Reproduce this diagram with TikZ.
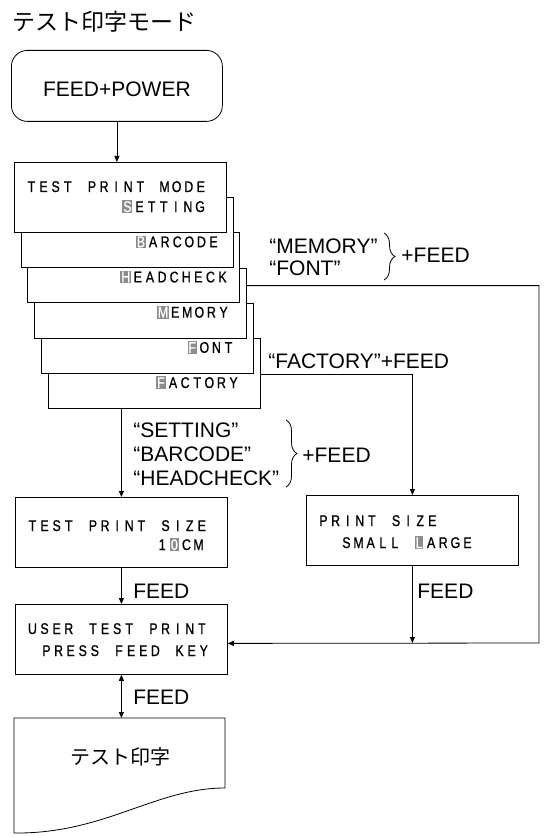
\documentclass[tikz,border=0pt]{standalone}
\usepackage{fontspec}
\setmainfont{Liberation Sans}
\newfontfamily\jpfont{Noto Sans CJK JP}
\newfontfamily\lcdfont[FakeStretch=0.8, FakeBold=0.8]{Liberation Sans}
\usetikzlibrary{arrows.meta,decorations.pathreplacing}

% one character per display cell
\newlength\lcdw
\setlength\lcdw{12.1pt}
\ExplSyntaxOn
\newcommand\lcd[1]{\str_map_inline:nn{#1}{\makebox[\lcdw]{##1}}}
\ExplSyntaxOff
\newcommand\lcdhl[1]{\makebox[\lcdw]{\setlength\fboxsep{0.9pt}\colorbox{black!45}{\textcolor{white}{#1}}}}

\tikzset{
  screen/.style={draw, fill=white, minimum width=212pt, minimum height=70pt, anchor=north west, inner sep=0pt},
  lcdtext/.style={font=\lcdfont\fontsize{15.5}{18}\selectfont, inner sep=0pt},
  note/.style={font=\fontsize{21}{24}\selectfont, inner sep=0pt},
}

\begin{document}
\begin{tikzpicture}[x=1pt, y=-1pt, line width=0.8pt, >={Triangle[length=6pt,width=5pt]}]
    \useasboundingbox (0,0) rectangle (545,837);

    % Title
    \node[anchor=base west, inner sep=0pt, font=\jpfont\fontsize{23}{27}\selectfont]
        (title) at (12,31) {テスト印字モード};

    % Start
    \node[draw, rounded corners=16pt, minimum width=211pt, minimum height=71pt,
        anchor=north west, note, text height=22pt, text depth=0pt]
        (power) at (11,50) {FEED+POWER};

    % Menu screens, back to front
    \foreach \i/\name/\x/\txt in {
        5/factory/240/{\lcdhl{F}\lcd{ACTORY}},
        4/font/235/{\lcdhl{F}\lcd{ONT}},
        3/memory/230/{\lcdhl{M}\lcd{EMORY}},
        2/headcheck/229/{\lcdhl{H}\lcd{EADCHECK}},
        1/barcode/220/{\lcdhl{B}\lcd{ARCODE}}} {
        \node[screen] (\name) at ({14+6.7*\i},{162+35.2*\i}) {};
        \node[lcdtext, anchor=base east] (\name-text) at ({\x},{212+35.2*\i}) {\txt};
    }
    \node[screen] (mode) at (14,162) {};
    \node[lcdtext, anchor=base west] (mode-title) at (25,192) {\lcd{TEST PRINT MODE}};
    \node[lcdtext, anchor=base east] (mode-text) at (206.5,212) {\lcdhl{S}\lcd{ETTING}};

    % Size screens
    \node[screen] (testsize) at (15,497) {};
    \node[lcdtext, anchor=base west] (testsize-title) at (26,531) {\lcd{TEST PRINT SIZE}};
    \node[lcdtext, anchor=base east] (testsize-text) at (205,550) {\lcd{1}\lcdhl{0}\lcd{CM}};

    \node[screen] (printsize) at (306,495) {};
    \node[lcdtext, anchor=base west] (printsize-title) at (317,526) {\lcd{PRINT SIZE}};
    \node[lcdtext, anchor=base west] (printsize-text) at (340,548) {\lcd{SMALL }\lcdhl{L}\lcd{ARGE}};

    \node[screen] (user) at (15,604) {};
    \node[lcdtext, anchor=base west] (user-title) at (26,634) {\lcd{USER TEST PRINT}};
    \node[lcdtext, anchor=base west] (user-text) at (40,656) {\lcd{PRESS FEED KEY}};

    % Printout
    \draw (14,718) -- (225,718) -- (225,788)
        .. controls (155,788) and (105,834) .. (14,833) -- cycle;
    \node[font=\jpfont\fontsize{20}{24}\selectfont] (sample) at (120,757) {テスト印字};
    \coordinate (doctop) at (121,718);
    \coordinate (rail) at (539,643);

    % Key labels
    \node[note, anchor=north west, align=left, font=\fontsize{21}{22}\selectfont]
        (memfont) at (269,238) {“MEMORY”\\“FONT”};
    \draw[decorate, decoration={brace, amplitude=11pt}] (384,233) -- (384,280);
    \node[note, anchor=west] (memfont-feed) at (401,255) {+FEED};

    \node[note, anchor=base west] (factory-feed) at (268,368) {“FACTORY”+FEED};

    \node[note, anchor=north west, align=left] (setting) at (133,422)
        {“SETTING”\\“BARCODE”\\“HEADCHECK”};
    \draw[decorate, decoration={brace, amplitude=11pt}] (286,420) -- (286,487);
    \node[note, anchor=west] (setting-feed) at (302,455) {+FEED};

    \node[note, anchor=base west] (feed-left) at (133,598) {FEED};
    \node[note, anchor=base west] (feed-right) at (417,598) {FEED};
    \node[note, anchor=base west] (feed-print) at (133,704) {FEED};

    % Connectors
    \draw[->] (power.south) -- (power.south |- mode.north);
    \draw[->] (testsize.north |- factory.south) -- (testsize.north);
    \draw[->] (testsize.south) -- (user.north);
    \draw[->] ([yshift=-18pt]memory.north east) -| (rail) -- ([yshift=-4pt]user.east);
    \draw[->] ([yshift=-36pt]factory.north east) -| (printsize.north);
    \draw[->] (printsize.south) -- (printsize.south |- rail);
    \draw[<->] (user.south) -- (user.south |- doctop);

\end{tikzpicture}
\end{document}
